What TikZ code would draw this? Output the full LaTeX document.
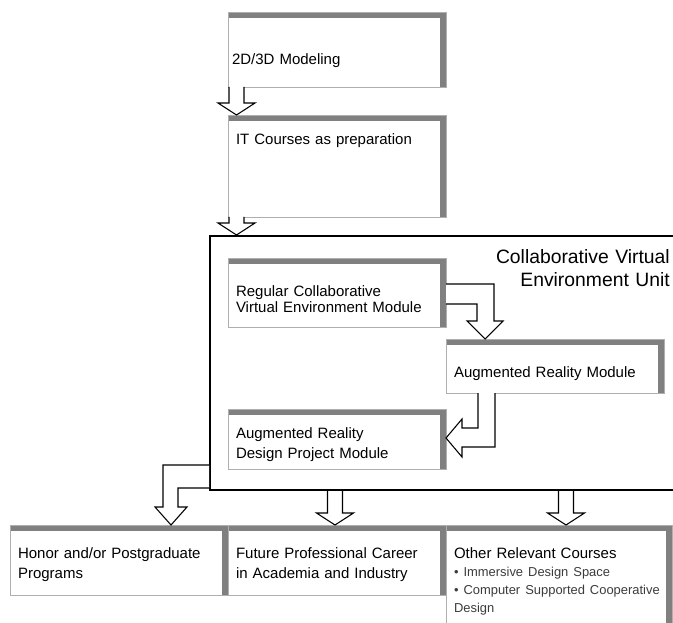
\documentclass[tikz,border=0pt]{standalone}
\usepackage{fontspec}
\setmainfont{Liberation Sans}
\usetikzlibrary{positioning}
\definecolor{band}{RGB}{128,128,128}
\definecolor{edge}{RGB}{175,175,175}
\definecolor{bullet}{RGB}{60,60,60}

\begin{document}
\begin{tikzpicture}[x=0.75pt, y=-0.75pt,
  panel/.style={fill=band, draw=edge, line width=0.5pt, anchor=north west, inner xsep=6pt, inner ysep=0pt, outer sep=0pt, text width=151.5pt, align=left, font=\fontsize{11.25}{15}\selectfont, path picture={\fill[white] (path picture bounding box.south west) rectangle ([xshift=-4.5pt, yshift=-4.5pt]path picture bounding box.north east);}},
  unitbox/.style={draw, line width=1.5pt, anchor=north west, minimum width=367.5pt, minimum height=190.5pt, inner sep=0pt},
  hollow/.style={draw, fill=white, line width=0.8pt, line join=miter},
  blockdown/.style={insert path={++(-7.5,0) -- ++(0,#1) -- ++(-11,0) -- ++(18.5,12) -- ++(18.5,-12) -- ++(-11,0) -- ++(0,-#1)}}
]
\useasboundingbox (0,0) rectangle (673,623);
\clip (0,0) rectangle (673,623);
\fill[white] (0,0) rectangle (673,623);

\node[panel, text height=22.5pt, text depth=54pt] (prep) at (228,115) {IT Courses as preparation};
\node[panel, above=21pt of prep.north west, anchor=south west, inner xsep=3pt, text width=157.5pt, text height=39.75pt, text depth=16.5pt] (model) {\mbox{2D/3D Modeling}};
\node[panel, font=\fontsize{11.25}{12.5}\selectfont, text height=28.5pt, text depth=23.25pt] (reg) at (228,258) {Regular Collaborative\\Virtual Environment Module};
\node[panel, below right=9pt and 0pt of reg.south east, text height=28.5pt, text depth=12pt] (armod) {Augmented Reality Module};
\node[panel, font=\fontsize{11.25}{15.5}\selectfont, below=61.5pt of reg.south west, anchor=north west, text height=21.75pt, text depth=23.25pt] (ardes) {Augmented Reality\\Design Project Module};
\node[panel, text height=24.75pt, text depth=27.75pt] (honor) at (10,525) {Honor and/or Postgraduate\\Programs};
\node[panel, right=0pt of honor, text height=24.75pt, text depth=27.75pt] (future) {Future Professional Career\\in Academia and Industry};
\node[panel, right=0pt of future.north east, anchor=north west, text width=157.5pt, text height=24.75pt, text depth=66pt] (other) {Other Relevant Courses\par
  {\fontsize{9.7}{13.5}\selectfont\color{bullet}\hangindent=0.63em\hangafter=1 •\ Immersive Design Space\par
  \hangindent=0.63em\hangafter=1 •\ Computer Supported Cooperative\\Design\par}};

\node[unitbox] (unit) at (209,235) {};
\node[anchor=base east, inner sep=0pt, text width=220pt, align=right, font=\fontsize{14.5}{17.25}\selectfont] (title) at (670,263) {Collaborative Virtual\\Environment Unit};

\draw[hollow] (model.south west) ++(8.5,0) [blockdown=16];
\draw[hollow] (prep.south west) ++(8.5,0) [blockdown=6];
\draw[hollow] (reg.north east) ++(0,26) -- ++(48,0) -- ++(0,37) -- ++(9,0) -- ++(-18,18) -- ++(-18,-18) -- ++(10,0) -- ++(0,-17) -- ++(-31,0);
\draw[hollow] (armod.south west) ++(32,0) -- ++(0,35) -- ++(-16,0) -- ++(0,-9) -- ++(-16,19) -- ++(16,19) -- ++(0,-10) -- ++(33,0) -- ++(0,-54);
\draw[hollow] (unit.south west) ++(0,-26) -- ++(-46,0) -- ++(0,42) -- ++(-8,0) -- ++(16,18) -- ++(16,-18) -- ++(-9,0) -- ++(0,-19) -- ++(31,0);
\draw[hollow] (unit.south west) ++(126,0) [blockdown=22];
\draw[hollow] (unit.south west) ++(357,0) [blockdown=22];
\end{tikzpicture}
\end{document}
